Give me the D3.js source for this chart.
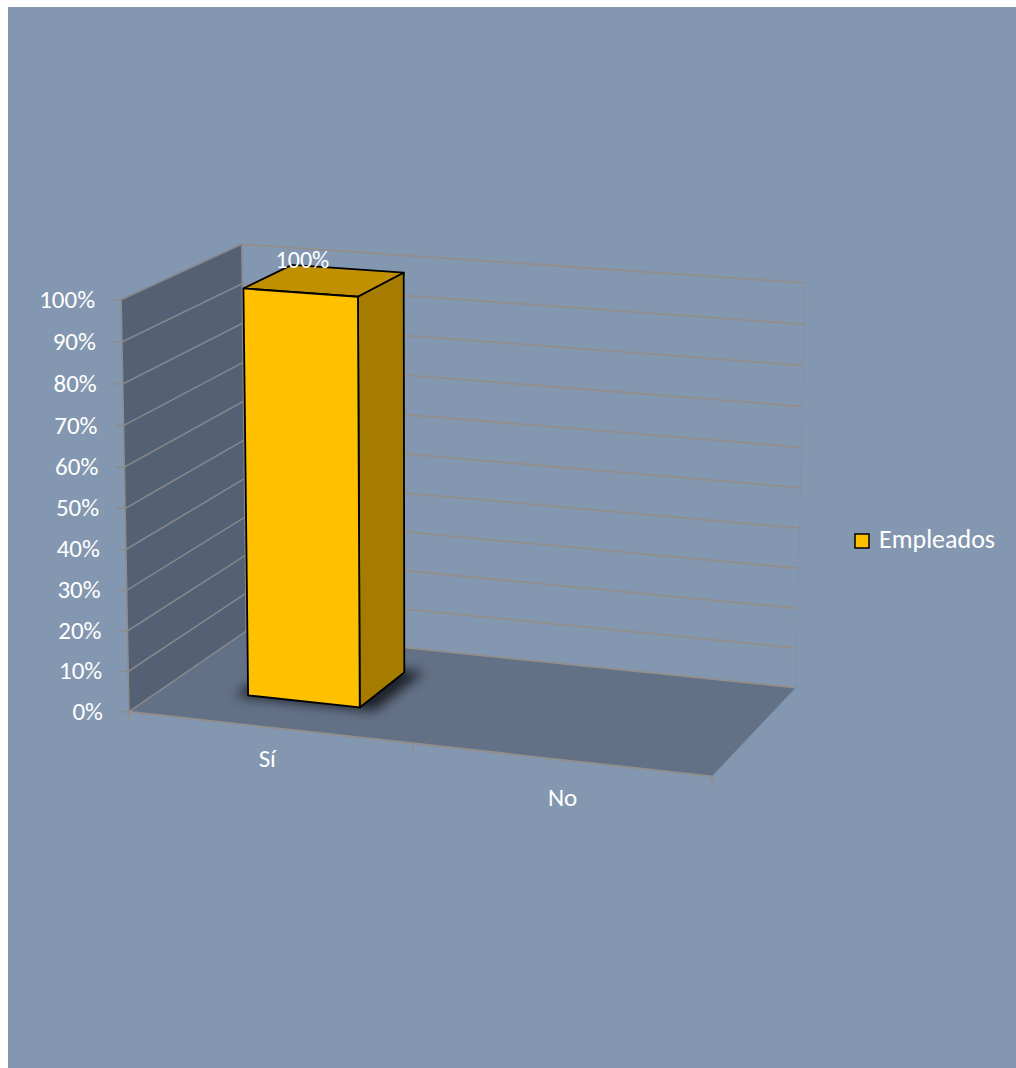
<!DOCTYPE html>
<html><head><meta charset="utf-8">
<script src="https://cdn.jsdelivr.net/npm/d3@7"></script>
<style>html,body{margin:0;padding:0;background:#fff;} svg{display:block;}</style>
</head><body><svg id="c" width="1016" height="1068"></svg>
<script>
// ---- data ----
const categories = ["Sí", "No"];
const values = [1.0, 0.0];
const seriesName = "Empleados";
const yTickValues = [0, 0.1, 0.2, 0.3, 0.4, 0.5, 0.6, 0.7, 0.8, 0.9, 1.0];

// ---- 3D projection fitted to the box corners ----
const anchors = [
  [[0,0,0],[130,711]], [[1,0,0],[712,777]], [[1,0,1],[796,687]], [[0,0,1],[245,632]],
  [[0,1,0],[120,300]], [[0,1,1],[243,244]], [[1,1,1],[805,283]]
];
function fitProjection(pairs){
  const A=[],B=[];
  pairs.forEach(([[X,Y,Z],[u,v]])=>{
    A.push([X,Y,Z,1,0,0,0,0,-u*X,-u*Y,-u*Z]); B.push(u);
    A.push([0,0,0,0,X,Y,Z,1,-v*X,-v*Y,-v*Z]); B.push(v);
  });
  const n=11, M=[...Array(n)].map(()=>Array(n+1).fill(0));
  for(let i=0;i<n;i++){
    for(let j=0;j<n;j++){let s=0;for(let k=0;k<A.length;k++)s+=A[k][i]*A[k][j];M[i][j]=s;}
    let s=0;for(let k=0;k<A.length;k++)s+=A[k][i]*B[k];M[i][n]=s;
  }
  for(let c=0;c<n;c++){
    let p=c;for(let r=c+1;r<n;r++)if(Math.abs(M[r][c])>Math.abs(M[p][c]))p=r;
    [M[c],M[p]]=[M[p],M[c]];
    for(let r=0;r<n;r++){if(r===c)continue;const f=M[r][c]/M[c][c];for(let k=c;k<=n;k++)M[r][k]-=f*M[c][k];}
  }
  const p=M.map((row,i)=>row[n]/row[i]);
  return ([X,Y,Z])=>{const w=p[8]*X+p[9]*Y+p[10]*Z+1;return [(p[0]*X+p[1]*Y+p[2]*Z+p[3])/w,(p[4]*X+p[5]*Y+p[6]*Z+p[7])/w];};
}
const P = fitProjection(anchors);

// scales (world units 0..1)
const x = d3.scaleBand().domain(categories).range([0,1]).paddingInner(0.6).paddingOuter(0.3);
const xCat = d3.scaleBand().domain(categories).range([0,1]);
const y = d3.scaleLinear().domain([0,1]).range([0,1]);
const zFront = 0.30, zBack = 0.72;

const svg = d3.select("#c");
const FONT = "Carlito, Lato, 'Liberation Sans', sans-serif";
const line = d3.line();
const poly = pts => "M" + pts.map(p=>P(p).join(",")).join("L") + "Z";
const path = pts => line(pts.map(P));

svg.append("rect").attr("x",8).attr("y",7).attr("width",1008).attr("height",1061).attr("fill","#8497b0");

const defs = svg.append("defs");
defs.append("filter").attr("id","blur").attr("x","-50%").attr("y","-50%").attr("width","200%").attr("height","200%")
  .append("feGaussianBlur").attr("stdDeviation",6);

// walls
svg.append("path").attr("d",poly([[0,0,0],[0,0,1],[0,1,1],[0,1,0]])).attr("fill","#546073");
svg.append("path").attr("d",poly([[0,0,0],[1,0,0],[1,0,1],[0,0,1]])).attr("fill","#637187");

// gridlines
yTickValues.forEach(t=>{
  svg.append("path").attr("d",path([[0,y(t),0],[0,y(t),1]])).attr("fill","none").attr("stroke","#85878c").attr("stroke-width",1.6);
  svg.append("path").attr("d",path([[0,y(t),1],[1,y(t),1]])).attr("fill","none").attr("stroke","#938e8b").attr("stroke-width",1.8);
});
svg.append("path").attr("d",path([[0,0,1],[0,1,1]])).attr("stroke","#85878c").attr("stroke-width",1.5);
svg.append("path").attr("d",path([[1,0,1],[1,1,1]])).attr("stroke","#7e8ea6").attr("stroke-width",1).attr("stroke-dasharray","2,2");
// axis lines
svg.append("path").attr("d",path([[0,0,0],[0,1,0]])).attr("stroke","#8c8c8c").attr("stroke-width",1.6);
svg.append("path").attr("d",path([[0,0,0],[1,0,0]])).attr("stroke","#938e8b").attr("stroke-width",1.8);
svg.append("path").attr("d",path([[1,0,0],[1,0,1]])).attr("stroke","#7a8aa0").attr("stroke-width",1);

// y ticks + labels
yTickValues.forEach(t=>{
  const [px,py] = P([0,y(t),0]);
  svg.append("line").attr("x1",px-8).attr("x2",px).attr("y1",py).attr("y2",py).attr("stroke","#8c8c8c").attr("stroke-width",1.6);
  svg.append("text").attr("x",px-26).attr("y",py+2).attr("text-anchor","end").attr("dominant-baseline","middle")
    .attr("font-family",FONT).attr("font-size",25).attr("fill","#fff").text(d3.format(".0%")(t));
});
// category ticks
[0, ...categories.map(c=>xCat(c)+xCat.bandwidth())].forEach(v=>{
  const [px,py]=P([v,0,0]);
  svg.append("line").attr("x1",px).attr("x2",px).attr("y1",py).attr("y2",py+8).attr("stroke","#938e8b").attr("stroke-width",1.5);
});
categories.forEach(c=>{
  const cx = xCat(c)+xCat.bandwidth()/2;
  const [px,py]=P([cx,0,0]);
  svg.append("text").attr("x",px-4+8*cx).attr("y",py+31+12*cx).attr("text-anchor","middle").attr("dominant-baseline","middle")
    .attr("font-family",FONT).attr("font-size",25).attr("fill","#fff").text(c);
});

// bars
categories.forEach((c,i)=>{
  const v = values[i];
  if(!(v>0)) return;
  const x0=x(c), x1=x(c)+x.bandwidth(), h=y(v);
  // shadow
  svg.append("path").attr("d",poly([[x0-0.02,0,zFront-0.02],[x1+0.03,0,zFront-0.02],[x1+0.03,0,zBack+0.03],[x0-0.02,0,zBack+0.03]]))
    .attr("fill","#000").attr("opacity",0.7).attr("filter","url(#blur)");
  const st = {stroke:"#000","stroke-width":1.8,"stroke-linejoin":"round"};
  const face = (pts,fill)=>{const p=svg.append("path").attr("d",poly(pts)).attr("fill",fill);Object.entries(st).forEach(([k,vv])=>p.attr(k,vv));};
  face([[x0,h,zFront],[x1,h,zFront],[x1,h,zBack],[x0,h,zBack]],"#c09000");
  face([[x1,0,zFront],[x1,0,zBack],[x1,h,zBack],[x1,h,zFront]],"#a67c00");
  face([[x0,0,zFront],[x1,0,zFront],[x1,h,zFront],[x0,h,zFront]],"#ffc000");
  const [lx,ly]=P([(x0+x1)/2,h,zFront]);
  svg.append("text").attr("x",lx+2).attr("y",ly-30).attr("text-anchor","middle").attr("dominant-baseline","middle")
    .attr("font-family",FONT).attr("font-size",24).attr("fill","#fff").text(d3.format(".0%")(v));
});

// legend
const lg = svg.append("g").attr("transform","translate(855,534)");
lg.append("rect").attr("width",14).attr("height",14).attr("fill","#ffc000").attr("stroke","#000").attr("stroke-width",1.5);
lg.append("text").attr("x",24).attr("y",8).attr("dominant-baseline","middle").attr("font-family",FONT).attr("font-size",26).attr("fill","#fff").text(seriesName);
</script>
</body></html>
